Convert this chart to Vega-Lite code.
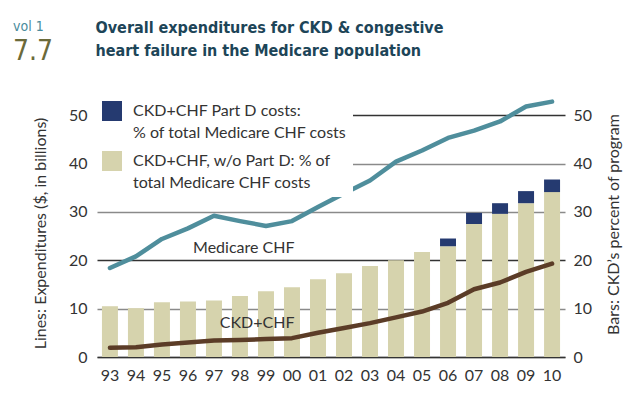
{
  "$schema": "https://vega.github.io/schema/vega-lite/v6.json",
  "autosize": {"type": "none"},
  "padding": {"left": 97, "top": 91, "right": 71, "bottom": 52},
  "width": 468,
  "height": 266,
  "background": "white",
  "title": {
    "text": "vol 1",
    "subtitle": "7.7",
    "anchor": "start",
    "frame": "group",
    "dx": -84,
    "dy": 47,
    "offset": 0,
    "font": "DejaVu Sans Condensed",
    "fontSize": 14,
    "fontWeight": "normal",
    "color": "#4b8c9c",
    "subtitleFont": "DejaVu Sans Condensed",
    "subtitleFontSize": 28,
    "subtitleColor": "#6b6a3a",
    "subtitlePadding": 4
  },
  "datasets": {
    "bars": [
      {"yr": "93", "part": "nopartd", "pct": 10.5},
      {"yr": "94", "part": "nopartd", "pct": 10.1},
      {"yr": "95", "part": "nopartd", "pct": 11.3},
      {"yr": "96", "part": "nopartd", "pct": 11.5},
      {"yr": "97", "part": "nopartd", "pct": 11.7},
      {"yr": "98", "part": "nopartd", "pct": 12.6},
      {"yr": "99", "part": "nopartd", "pct": 13.6},
      {"yr": "00", "part": "nopartd", "pct": 14.4},
      {"yr": "01", "part": "nopartd", "pct": 16.1},
      {"yr": "02", "part": "nopartd", "pct": 17.3},
      {"yr": "03", "part": "nopartd", "pct": 18.8},
      {"yr": "04", "part": "nopartd", "pct": 20.0},
      {"yr": "05", "part": "nopartd", "pct": 21.7},
      {"yr": "06", "part": "nopartd", "pct": 22.9},
      {"yr": "07", "part": "nopartd", "pct": 27.5},
      {"yr": "08", "part": "nopartd", "pct": 29.6},
      {"yr": "09", "part": "nopartd", "pct": 31.8},
      {"yr": "10", "part": "nopartd", "pct": 34.1},
      {"yr": "06", "part": "partd", "pct": 1.6},
      {"yr": "07", "part": "partd", "pct": 2.3},
      {"yr": "08", "part": "partd", "pct": 2.2},
      {"yr": "09", "part": "partd", "pct": 2.5},
      {"yr": "10", "part": "partd", "pct": 2.6}
    ],
    "lines": [
      {"yr": "93", "series": "Medicare CHF", "exp": 18.4},
      {"yr": "94", "series": "Medicare CHF", "exp": 20.8},
      {"yr": "95", "series": "Medicare CHF", "exp": 24.4},
      {"yr": "96", "series": "Medicare CHF", "exp": 26.6},
      {"yr": "97", "series": "Medicare CHF", "exp": 29.2},
      {"yr": "98", "series": "Medicare CHF", "exp": 28.1},
      {"yr": "99", "series": "Medicare CHF", "exp": 27.1},
      {"yr": "00", "series": "Medicare CHF", "exp": 28.1},
      {"yr": "01", "series": "Medicare CHF", "exp": 31.0},
      {"yr": "02", "series": "Medicare CHF", "exp": 33.8},
      {"yr": "03", "series": "Medicare CHF", "exp": 36.5},
      {"yr": "04", "series": "Medicare CHF", "exp": 40.4},
      {"yr": "05", "series": "Medicare CHF", "exp": 42.7},
      {"yr": "06", "series": "Medicare CHF", "exp": 45.3},
      {"yr": "07", "series": "Medicare CHF", "exp": 46.8},
      {"yr": "08", "series": "Medicare CHF", "exp": 48.7},
      {"yr": "09", "series": "Medicare CHF", "exp": 51.8},
      {"yr": "10", "series": "Medicare CHF", "exp": 52.8},
      {"yr": "93", "series": "CKD+CHF", "exp": 1.9},
      {"yr": "94", "series": "CKD+CHF", "exp": 2.0},
      {"yr": "95", "series": "CKD+CHF", "exp": 2.6},
      {"yr": "96", "series": "CKD+CHF", "exp": 3.0},
      {"yr": "97", "series": "CKD+CHF", "exp": 3.4},
      {"yr": "98", "series": "CKD+CHF", "exp": 3.5},
      {"yr": "99", "series": "CKD+CHF", "exp": 3.7},
      {"yr": "00", "series": "CKD+CHF", "exp": 3.9},
      {"yr": "01", "series": "CKD+CHF", "exp": 5.0},
      {"yr": "02", "series": "CKD+CHF", "exp": 6.0},
      {"yr": "03", "series": "CKD+CHF", "exp": 7.0},
      {"yr": "04", "series": "CKD+CHF", "exp": 8.2},
      {"yr": "05", "series": "CKD+CHF", "exp": 9.4},
      {"yr": "06", "series": "CKD+CHF", "exp": 11.2},
      {"yr": "07", "series": "CKD+CHF", "exp": 14.0},
      {"yr": "08", "series": "CKD+CHF", "exp": 15.4},
      {"yr": "09", "series": "CKD+CHF", "exp": 17.6},
      {"yr": "10", "series": "CKD+CHF", "exp": 19.3}
    ],
    "notes": [
      {"yr": "00", "v": 22.6, "label": "Medicare CHF"},
      {"yr": "00", "v": 7.0, "label": "CKD+CHF"}
    ]
  },
  "layer": [
    {
      "data": {"name": "bars"},
      "mark": {"type": "bar"},
      "encoding": {
        "x": {
          "field": "yr", "type": "ordinal", "sort": null,
          "scale": {"paddingInner": 0.385, "paddingOuter": 0.19},
          "axis": {
            "orient": "bottom", "title": null, "ticks": false, "grid": false,
            "labelAngle": 0, "labelFontSize": 16, "labelColor": "#333333", "labelPadding": 10,
            "domainColor": "#333333", "domainWidth": 1.6
          }
        },
        "y": {
          "field": "pct", "type": "quantitative", "stack": "zero",
          "scale": {"domain": [0, 55], "nice": false},
          "axis": {
            "orient": "right", "values": [0, 10, 20, 30, 40, 50], "grid": false, "ticks": false, "domain": false,
            "labelFontSize": 16, "labelColor": "#333333", "labelPadding": 8, "labelAlign": "left",
            "title": "Bars: CKD’s percent of program", "titleAngle": 270, "titleFontSize": 16,
            "titleFontWeight": "normal", "titleColor": "#333333", "titlePadding": 30
          }
        },
        "color": {
          "field": "part", "type": "nominal",
          "scale": {"domain": ["partd", "nopartd"], "range": ["#253a70", "#d6d3ad"]},
          "legend": {
            "orient": "none", "legendX": -1, "legendY": 4, "title": null, "padding": 6,
            "fillColor": "white",
            "symbolType": "square", "symbolSize": 400, "symbolStrokeWidth": 0,
            "labelFontSize": 16, "labelColor": "#333333", "labelLimit": 400, "labelOffset": 11,
            "rowPadding": 10,
            "labelExpr": "datum.value == 'partd' ? ['CKD+CHF Part D costs:', '% of total Medicare CHF costs'] : ['CKD+CHF, w/o Part D: % of', 'total Medicare CHF costs']"
          }
        },
        "order": {"field": "part", "sort": "ascending"}
      }
    },
    {
      "data": {"name": "lines"},
      "mark": {"type": "line", "strokeWidth": 4.5, "strokeCap": "round", "strokeJoin": "round"},
      "encoding": {
        "x": {"field": "yr", "type": "ordinal", "sort": null, "axis": null},
        "y": {
          "field": "exp", "type": "quantitative",
          "scale": {"domain": [0, 55], "nice": false},
          "axis": {
            "orient": "left", "values": [0, 10, 20, 30, 40, 50], "grid": true, "ticks": false, "domain": false,
            "gridColor": {"condition": {"test": "datum.value == 20 || datum.value == 50", "value": "#333333"}, "value": "#8a8a8a"},
            "gridWidth": 1.3,
            "labelFontSize": 16, "labelColor": "#333333", "labelPadding": 10,
            "title": "Lines: Expenditures ($, in billions)", "titleFontSize": 16, "titleFontWeight": "normal",
            "titleColor": "#333333", "titlePadding": 20, "titleY": 142
          }
        },
        "color": {
          "field": "series", "type": "nominal",
          "scale": {"domain": ["Medicare CHF", "CKD+CHF"], "range": ["#4f8e9c", "#5b3c27"]},
          "legend": null
        }
      }
    },
    {
      "data": {"name": "notes"},
      "mark": {"type": "text", "align": "right", "baseline": "middle", "dx": 2.5, "fontSize": 16, "fill": "#333333"},
      "encoding": {
        "x": {
          "field": "yr", "type": "ordinal", "sort": null,
          "axis": {
            "orient": "top", "labels": false, "ticks": false, "domain": false, "grid": false,
            "title": ["Overall expenditures for CKD & congestive", "heart failure in the Medicare population"],
            "titleAnchor": "start", "titleAlign": "left", "titleBaseline": "top",
            "titleX": -2, "titleY": -72,
            "titleFont": "DejaVu Sans Condensed",
            "titleFontSize": 16, "titleFontWeight": "bold", "titleColor": "#1d4558", "titleLineHeight": 23
          }
        },
        "y": {"field": "v", "type": "quantitative", "scale": {"domain": [0, 55], "nice": false}, "axis": null},
        "text": {"field": "label"}
      }
    }
  ],
  "resolve": {
    "scale": {"y": "independent", "color": "independent"},
    "axis": {"x": "independent"}
  },
  "config": {
    "font": "Lato",
    "view": {"stroke": null},
    "style": {"guide-label": {"lineHeight": 21.7}}
  }
}
